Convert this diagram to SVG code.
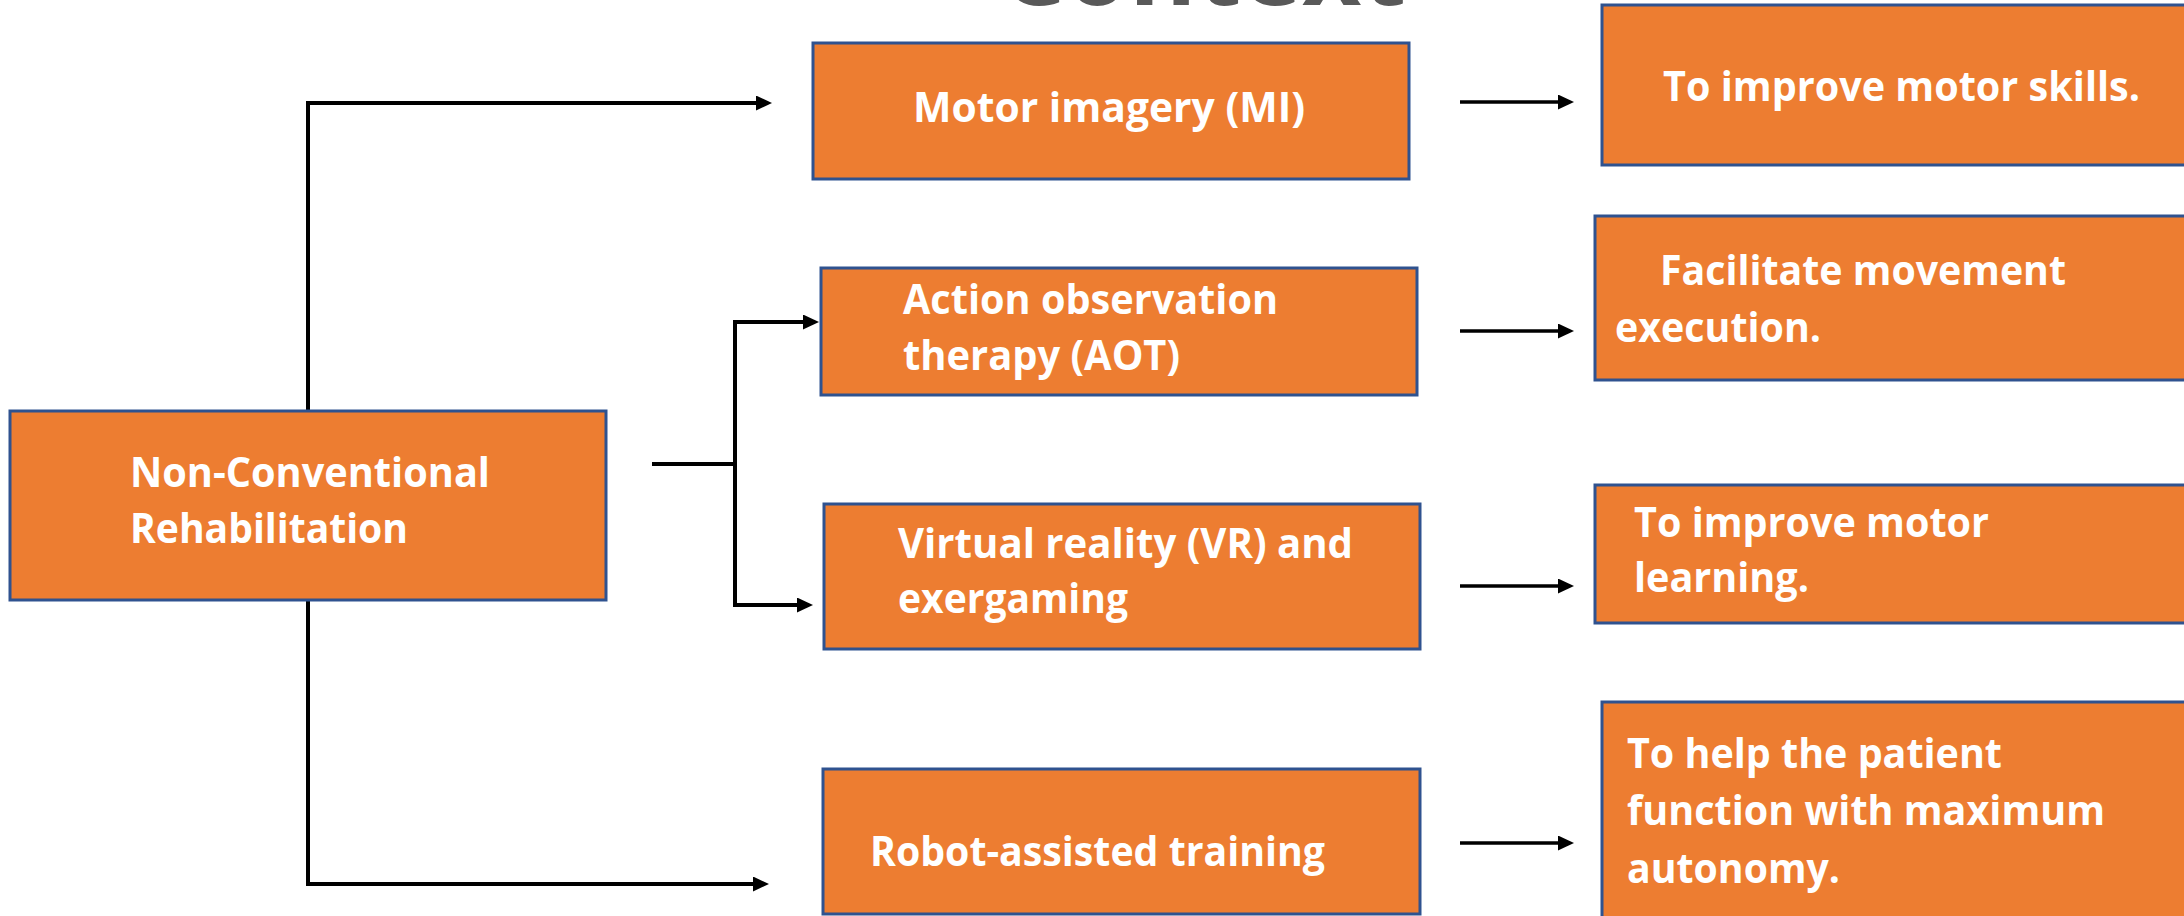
<svg xmlns="http://www.w3.org/2000/svg" width="2184" height="916" viewBox="0 0 2184 916">
<defs>
<style>
.box{fill:#ED7D31;stroke:#2F528F;stroke-width:3}
.t{font-family:"Open Sans","Noto Sans","Liberation Sans",sans-serif;font-weight:bold;font-size:41.5px;fill:#FFFFFF}
.title{font-family:"Open Sans","Noto Sans","Liberation Sans",sans-serif;font-weight:bold;font-size:104px;fill:#595959}
.c{fill:none;stroke:#000000;stroke-width:4}
.s{fill:none;stroke:#000000;stroke-width:3.5}
</style>
<marker id="ah" markerUnits="userSpaceOnUse" markerWidth="16" markerHeight="15" refX="2" refY="7.5" orient="auto" viewBox="0 0 16 15">
<path d="M0,0 L16,7.5 L0,15 Z" fill="#000000"/>
</marker>
</defs>
<rect width="2184" height="916" fill="#FFFFFF"/>
<g id="title">
<text class="title" x="1000" y="5" textLength="406" lengthAdjust="spacingAndGlyphs">Context</text>
</g>
<g id="connectors">
<path class="c" d="M308,411 V103 H758" marker-end="url(#ah)"/>
<path class="c" d="M308,600 V884 H755" marker-end="url(#ah)"/>
<path class="c" d="M652,464 H737" stroke-width="5"/>
<path class="c" d="M735,320 V607"/>
<path class="c" d="M733,322 H805" marker-end="url(#ah)"/>
<path class="c" d="M733,605 H799" marker-end="url(#ah)"/>
<path class="s" d="M1460,102 H1560" marker-end="url(#ah)"/>
<path class="s" d="M1460,331 H1560" marker-end="url(#ah)"/>
<path class="s" d="M1460,586 H1560" marker-end="url(#ah)"/>
<path class="s" d="M1460,843 H1560" marker-end="url(#ah)"/>
</g>
<g id="root">
<rect class="box" x="10" y="411" width="596" height="189"/>
<text class="t" x="130" y="487" textLength="360" lengthAdjust="spacingAndGlyphs">Non-Conventional</text>
<text class="t" x="130" y="543" textLength="278" lengthAdjust="spacingAndGlyphs">Rehabilitation</text>
</g>
<g id="mi">
<rect class="box" x="813" y="43" width="596" height="136"/>
<text class="t" x="913" y="122" textLength="392" lengthAdjust="spacingAndGlyphs">Motor imagery (MI)</text>
</g>
<g id="aot">
<rect class="box" x="821" y="268" width="596" height="127"/>
<text class="t" x="903" y="314" textLength="375" lengthAdjust="spacingAndGlyphs">Action observation</text>
<text class="t" x="903" y="370" textLength="277" lengthAdjust="spacingAndGlyphs">therapy (AOT)</text>
</g>
<g id="vr">
<rect class="box" x="824" y="504" width="596" height="145"/>
<text class="t" x="898" y="558" textLength="455" lengthAdjust="spacingAndGlyphs">Virtual reality (VR) and</text>
<text class="t" x="898" y="613" textLength="230" lengthAdjust="spacingAndGlyphs">exergaming</text>
</g>
<g id="robot">
<rect class="box" x="823" y="769" width="597" height="145"/>
<text class="t" x="870" y="866" textLength="455" lengthAdjust="spacingAndGlyphs">Robot-assisted training</text>
</g>
<g id="goal-mi">
<rect class="box" x="1602" y="5" width="600" height="160"/>
<text class="t" x="1663" y="101" textLength="477" lengthAdjust="spacingAndGlyphs">To improve motor skills.</text>
</g>
<g id="goal-aot">
<rect class="box" x="1595" y="216" width="610" height="164"/>
<text class="t" x="1660" y="285" textLength="406" lengthAdjust="spacingAndGlyphs">Facilitate movement</text>
<text class="t" x="1615" y="342" textLength="206" lengthAdjust="spacingAndGlyphs">execution.</text>
</g>
<g id="goal-vr">
<rect class="box" x="1595" y="485" width="610" height="138"/>
<text class="t" x="1634" y="537" textLength="355" lengthAdjust="spacingAndGlyphs">To improve motor</text>
<text class="t" x="1634" y="592" textLength="175" lengthAdjust="spacingAndGlyphs">learning.</text>
</g>
<g id="goal-robot">
<rect class="box" x="1602" y="702" width="600" height="230"/>
<text class="t" x="1627" y="768" textLength="375" lengthAdjust="spacingAndGlyphs">To help the patient</text>
<text class="t" x="1627" y="825" textLength="478" lengthAdjust="spacingAndGlyphs">function with maximum</text>
<text class="t" x="1627" y="883" textLength="213" lengthAdjust="spacingAndGlyphs">autonomy.</text>
</g>
</svg>
